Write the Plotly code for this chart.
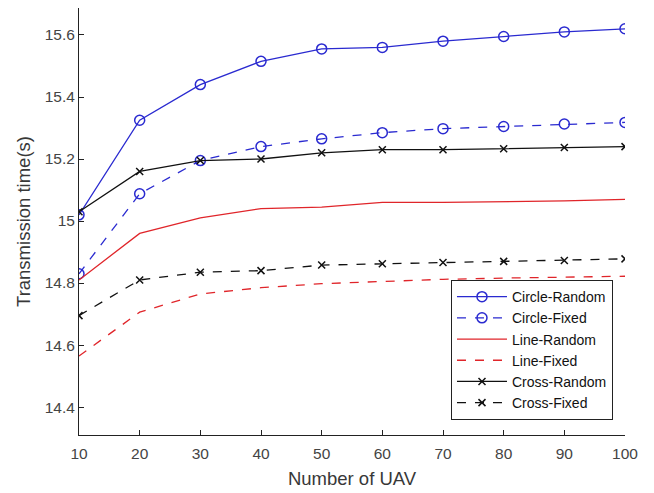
import plotly.graph_objects as go

uav = [10, 20, 30, 40, 50, 60, 70, 80, 90, 100]
circle_random = [15.02, 15.325, 15.44, 15.515, 15.555, 15.56, 15.58, 15.595, 15.61, 15.62]
circle_fixed = [14.83, 15.088, 15.195, 15.24, 15.265, 15.285, 15.298, 15.305, 15.313, 15.318]
line_random = [14.81, 14.96, 15.01, 15.04, 15.045, 15.06, 15.06, 15.062, 15.065, 15.07]
line_fixed = [14.565, 14.706, 14.765, 14.785, 14.798, 14.806, 14.812, 14.816, 14.819, 14.822]
cross_random = [15.03, 15.16, 15.195, 15.20, 15.22, 15.23, 15.23, 15.233, 15.237, 15.24]
cross_fixed = [14.695, 14.81, 14.835, 14.84, 14.858, 14.862, 14.866, 14.87, 14.873, 14.878]

x_ticks = [10, 20, 30, 40, 50, 60, 70, 80, 90, 100]
y_ticks = [14.4, 14.6, 14.8, 15.0, 15.2, 15.4, 15.6]
y_tick_labels = ["14.4", "14.6", "14.8", "15", "15.2", "15.4", "15.6"]

BLUE = "#2a2ad0"
RED = "#e0252a"
BLACK = "#111111"

series = [
    ("Circle-Random", circle_random, BLUE, "solid", "circle-open", 10),
    ("Circle-Fixed", circle_fixed, BLUE, "dash", "circle-open", 10),
    ("Line-Random", line_random, RED, "solid", None, 0),
    ("Line-Fixed", line_fixed, RED, "dash", None, 0),
    ("Cross-Random", cross_random, BLACK, "solid", "x-thin-open", 7),
    ("Cross-Fixed", cross_fixed, BLACK, "dash", "x-thin-open", 7),
]

fig = go.Figure()
for name, ys, color, dash, sym, size in series:
    if sym:
        fig.add_trace(go.Scatter(
            x=uav, y=ys, name=name, mode="lines+markers",
            line=dict(color=color, width=1.3, dash=dash),
            marker=dict(symbol=sym, size=size, color=color,
                        line=dict(color=color, width=1.5)),
        ))
    else:
        fig.add_trace(go.Scatter(
            x=uav, y=ys, name=name, mode="lines",
            line=dict(color=color, width=1.3, dash=dash),
        ))

fig.update_layout(
    width=654, height=493,
    margin=dict(l=71, r=37, t=0, b=66, autoexpand=False),
    paper_bgcolor="white", plot_bgcolor="white",
    font=dict(family="Liberation Sans, Arial, sans-serif", size=15, color="#333333"),
    showlegend=True,
    legend=dict(
        x=0.978, y=0.035, xanchor="right", yanchor="bottom",
        bgcolor="white", bordercolor="#222222", borderwidth=1,
        font=dict(size=14, color="#111111"),
        tracegroupgap=0, itemwidth=50,
    ),
)
fig.update_xaxes(
    range=[10, 100], tickvals=x_ticks,
    showgrid=False, zeroline=False,
    showline=True, linecolor="#222222", linewidth=1,
    ticks="inside", ticklen=5, tickcolor="#222222",
    ticklabelstandoff=4,
    title=dict(text="Number of UAV", font=dict(size=18.5, color="#383838"), standoff=11),
    tickfont=dict(size=15.5, color="#444444"),
)
fig.update_yaxes(
    range=[14.310, 15.687], tickvals=y_ticks, ticktext=y_tick_labels,
    showgrid=False, zeroline=False,
    showline=True, linecolor="#222222", linewidth=1,
    ticks="inside", ticklen=5, tickcolor="#222222",
    title=dict(text="Transmission time(s)", font=dict(size=18.5, color="#383838"), standoff=9),
    tickfont=dict(size=15.5, color="#444444"),
)

fig.write_html("out.html")
